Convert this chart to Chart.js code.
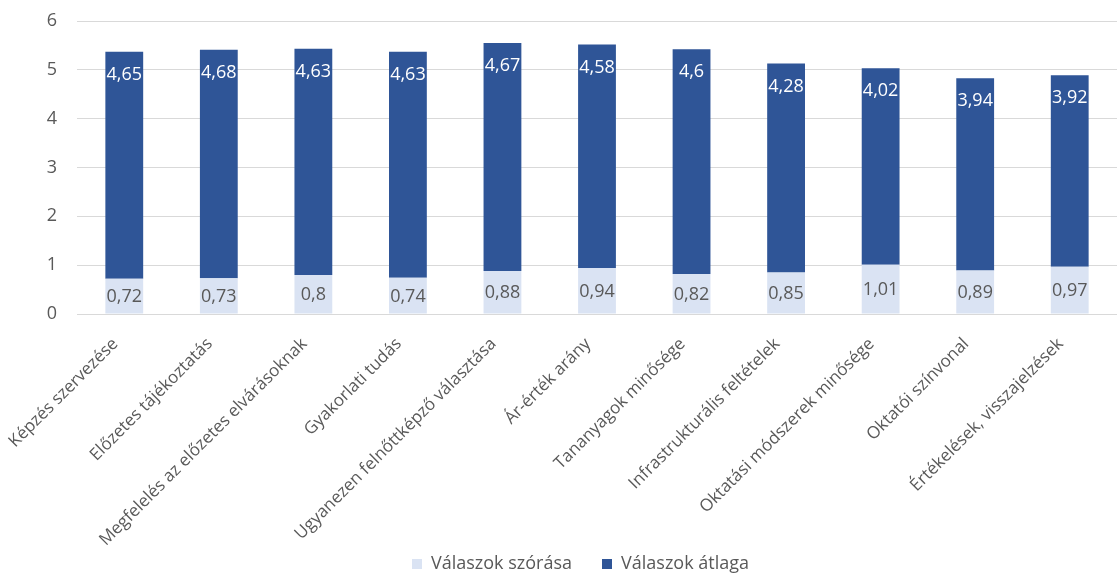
<!DOCTYPE html>
<html>
<head>
<meta charset="utf-8">
<script src="https://cdn.jsdelivr.net/npm/chart.js@4"></script>
<style>
html,body{margin:0;padding:0;background:#fff;}
#wrap{width:1118px;height:573px;}
</style>
</head>
<body>
<div id="wrap"><canvas id="c" width="1118" height="573"></canvas></div>
<script>
const categories = [
  "Képzés szervezése",
  "Előzetes tájékoztatás",
  "Megfelelés az előzetes elvárásoknak",
  "Gyakorlati tudás",
  "Ugyanezen felnőttképző választása",
  "Ár-érték arány",
  "Tananyagok minősége",
  "Infrastrukturális feltételek",
  "Oktatási módszerek minősége",
  "Oktatói színvonal",
  "Értékelések, visszajelzések"
];
const szorasa = [0.72, 0.73, 0.8, 0.74, 0.88, 0.94, 0.82, 0.85, 1.01, 0.89, 0.97];
const atlaga = [4.65, 4.68, 4.63, 4.63, 4.67, 4.58, 4.6, 4.28, 4.02, 3.94, 3.92];
const seriesNames = ["Válaszok szórása", "Válaszok átlaga"];
const yTicks = [0, 1, 2, 3, 4, 5, 6];

const FONT = "'Open Sans', 'Noto Sans', sans-serif";

const labelPlugin = {
  id: 'valueLabels',
  afterLayout(chart) {
    // let rotated category labels extend past the scale box (no clipping)
    chart.scales.x.bottom = chart.height;
    // legend sits slightly right of centre in the reference
    if (chart.legend) { chart.legend.left += 22; chart.legend.right += 22; }
  },
  beforeDraw(chart) {
    const xs = chart.scales.x;
    const items = xs.getLabelItems(chart.chartArea);
    if (!items._shifted) {
      items.forEach(it => { it.options.translation[0] -= 9; });
      items._shifted = true;
    }
  },
  afterDatasetsDraw(chart) {
    const ctx = chart.ctx;
    ctx.save();
    ctx.font = "18px " + FONT;
    ctx.textAlign = 'center';
    ctx.textBaseline = 'middle';
    chart.data.datasets.forEach((ds, di) => {
      const meta = chart.getDatasetMeta(di);
      meta.data.forEach((el, i) => {
        const v = ds.data[i];
        const txt = String(v).replace('.', ',');
        let y;
        if (di === 0) {
          y = (el.y + el.base) / 2 + 1;
          ctx.fillStyle = '#595959';
        } else {
          y = el.y + 23;
          ctx.fillStyle = '#ffffff';
        }
        ctx.fillText(txt, el.x, y);
      });
    });
    ctx.restore();
  }
};

new Chart(document.getElementById('c'), {
  type: 'bar',
  data: {
    labels: categories,
    datasets: [
      { label: seriesNames[0], data: szorasa, backgroundColor: '#DAE3F3', borderWidth: 0 },
      { label: seriesNames[1], data: atlaga, backgroundColor: '#2F5597', borderWidth: 0 }
    ]
  },
  options: {
    responsive: false,
    animation: false,
    devicePixelRatio: 1,
    layout: { padding: { top: 21, right: 1, left: 0, bottom: -10 } },
    datasets: { bar: { categoryPercentage: 0.8, barPercentage: 0.5 } },
    plugins: {
      tooltip: { enabled: false },
      legend: {
        position: 'bottom',
        labels: {
          font: { size: 18, family: FONT },
          color: '#595959',
          boxWidth: 10,
          boxHeight: 10,
          padding: 30
        }
      }
    },
    scales: {
      x: {
        stacked: true,
        grid: { display: false, drawTicks: false },
        border: { display: false },
        ticks: {
          font: { size: 17, family: FONT },
          color: '#595959',
          maxRotation: 45,
          minRotation: 45,
          autoSkip: false,
          padding: 20
        },
        afterFit(scale) { scale.height = 211; scale.paddingLeft = 0; scale.paddingRight = 0; }
      },
      y: {
        stacked: true,
        min: 0,
        max: 6,
        afterBuildTicks(scale) { scale.ticks = yTicks.map(v => ({ value: v })); },
        grid: { color: '#D9D9D9', lineWidth: 1, drawTicks: false },
        border: { display: false },
        ticks: {
          font: { size: 18, family: FONT },
          color: '#595959',
          padding: 20
        },
        afterFit(scale) { scale.width = 77; scale.paddingTop = 0; scale.paddingBottom = 0; }
      }
    }
  },
  plugins: [labelPlugin]
});
</script>
</body>
</html>
